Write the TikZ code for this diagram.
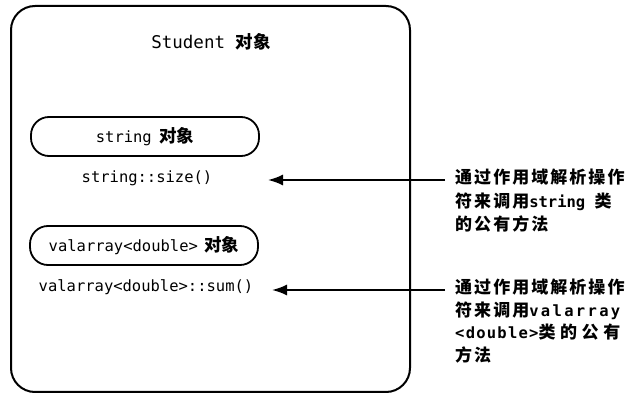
\documentclass[tikz,border=0pt]{standalone}
\usepackage{fontspec}
\setmonofont{DejaVu Sans Mono}
\newfontfamily\cjk{Noto Sans CJK SC}
\newfontfamily\cjkls{Noto Sans CJK SC}[LetterSpace=12]
\newfontfamily\cjklsw{Noto Sans CJK SC}[LetterSpace=27]
\newfontfamily\monols{DejaVu Sans Mono}[LetterSpace=15]
\newfontfamily\monolss{DejaVu Sans Mono}[LetterSpace=8]
\usetikzlibrary{arrows.meta}
\newcommand{\zh}[1]{{\cjk\bfseries\fontsize{17.5}{20}\selectfont #1}}
\newcommand{\zhs}[1]{{\cjkls\bfseries\fontsize{17}{20}\selectfont #1}}
\newcommand{\zhw}[1]{{\cjklsw\bfseries\fontsize{17}{20}\selectfont #1}}
\begin{document}
\begin{tikzpicture}[x=1pt,y=-1pt,
  frame/.style={draw=black,line width=2pt,rounded corners=24pt},
  pill/.style={draw=black,line width=1.8pt,rounded corners=18pt,minimum width=228pt,minimum height=39pt,inner sep=0pt},
  code/.style={font=\ttfamily\fontsize{15.5}{18}\selectfont,inner sep=0pt},
  note/.style={align=left,inner sep=0pt,anchor=north west,font=\ttfamily\bfseries\fontsize{15.5}{23.5}\selectfont},
  arr/.style={-{Latex[length=15pt,width=11pt]},line width=1.8pt}]
\useasboundingbox (0,0) rectangle (627,395);
\draw[frame] (11,6) rectangle (410,392);
\node[code,font=\ttfamily\fontsize{17.5}{20}\selectfont] (title) at (211,42) {Student \zh{对象}};
\node[pill,text width=228pt,align=center] (p1) at (145,136.5) {\ttfamily\fontsize{15.5}{18}\selectfont string\hspace{4pt} \zh{对象}};
\node[code] (c1) at (147,178) {string::size()};
\node[pill,text width=228pt,align=center] (p2) at (144,245.5) {\ttfamily\fontsize{15.5}{18}\selectfont valarray<double>\hspace{3pt} \zh{对象}};
\node[code] (c2) at (146,287) {valarray<double>::sum()};
\node[note] (n1) at (455,169) {\zhs{通过作用域解析操作}\\\zhs{符来调用}string \zhs{类}\\\zhs{的公有方法}};
\node[note,font=\ttfamily\bfseries\fontsize{15.5}{22.5}\selectfont] (n2) at (455,279) {\zhs{通过作用域解析操作}\\\zhs{符来调用}{\monols\bfseries valarray}\\{\monolss\bfseries <double>}\zhw{类的公有}\\\zhs{方法}};
\coordinate (a1s) at (445,180);
\coordinate (a1e) at (268,180);
\coordinate (a2s) at (445,290);
\coordinate (a2e) at (272,290);
\draw[arr] (a1s) -- (a1e);
\draw[arr] (a2s) -- (a2e);
\end{tikzpicture}
\end{document}
